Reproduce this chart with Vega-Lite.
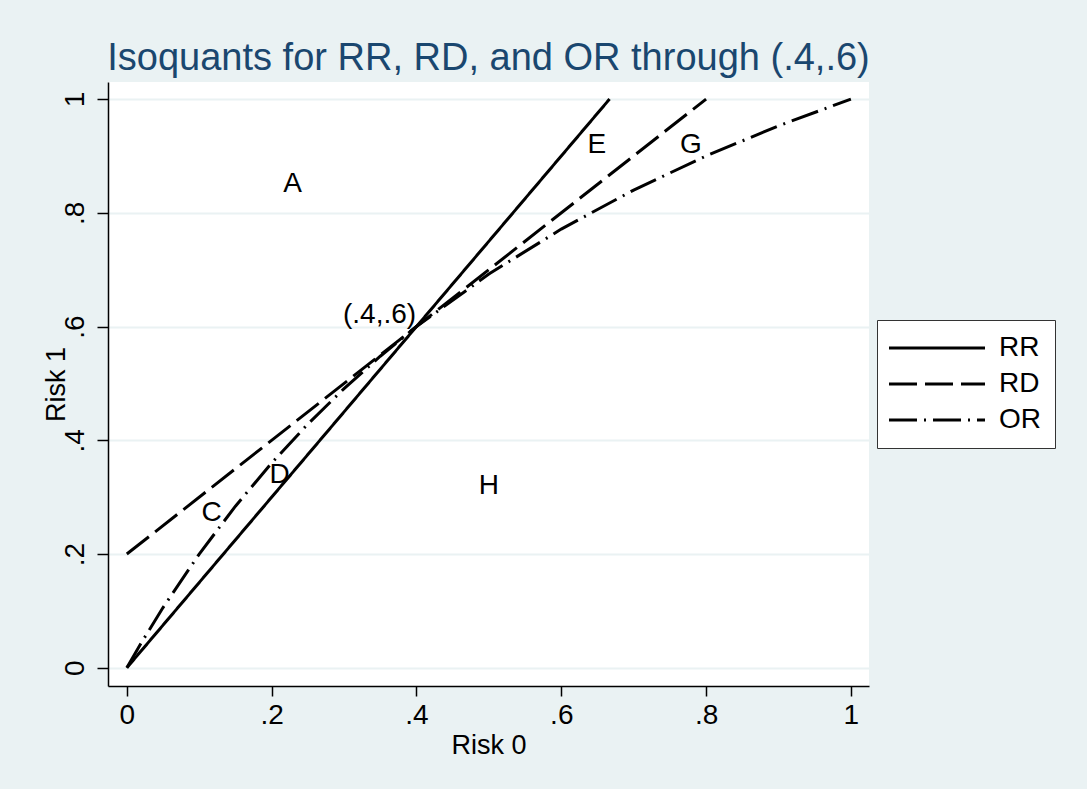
{
  "$schema": "https://vega.github.io/schema/vega-lite/v6.json",
  "autosize": {"type": "none"},
  "padding": {"left": 108, "top": 82, "right": 218, "bottom": 103},
  "width": 761,
  "height": 604,
  "background": "#eaf2f3",
  "title": {
    "text": "Isoquants for RR, RD, and OR through (.4,.6)",
    "font": "Liberation Sans",
    "fontSize": 38,
    "fontWeight": "normal",
    "color": "#1a476f",
    "anchor": "middle",
    "offset": 4
  },
  "config": {
    "view": {"fill": "white", "stroke": null},
    "font": "Liberation Sans",
    "axis": {
      "domainColor": "black",
      "domainWidth": 1.5,
      "tickColor": "black",
      "tickWidth": 1.5,
      "labelFont": "Liberation Sans",
      "labelFontSize": 28,
      "labelColor": "black",
      "titleFont": "Liberation Sans",
      "titleFontSize": 27,
      "titleFontWeight": "normal",
      "titleColor": "black"
    }
  },
  "datasets": {
    "lines": [
      {"measure": "RR", "risk0": 0, "risk1": 0},
      {"measure": "RR", "risk0": 0.6667, "risk1": 1},
      {"measure": "RD", "risk0": 0, "risk1": 0.2},
      {"measure": "RD", "risk0": 0.8, "risk1": 1},
      {"measure": "OR", "risk0": 0, "risk1": 0},
      {"measure": "OR", "risk0": 0.02, "risk1": 0.0439},
      {"measure": "OR", "risk0": 0.05, "risk1": 0.1059},
      {"measure": "OR", "risk0": 0.1, "risk1": 0.2},
      {"measure": "OR", "risk0": 0.15, "risk1": 0.2842},
      {"measure": "OR", "risk0": 0.2, "risk1": 0.36},
      {"measure": "OR", "risk0": 0.25, "risk1": 0.4286},
      {"measure": "OR", "risk0": 0.3, "risk1": 0.4909},
      {"measure": "OR", "risk0": 0.35, "risk1": 0.5478},
      {"measure": "OR", "risk0": 0.4, "risk1": 0.6},
      {"measure": "OR", "risk0": 0.5, "risk1": 0.6923},
      {"measure": "OR", "risk0": 0.6, "risk1": 0.7714},
      {"measure": "OR", "risk0": 0.7, "risk1": 0.84},
      {"measure": "OR", "risk0": 0.8, "risk1": 0.9},
      {"measure": "OR", "risk0": 0.9, "risk1": 0.9529},
      {"measure": "OR", "risk0": 1, "risk1": 1}
    ],
    "labels": [
      {"label": "A", "risk0": 0.229, "risk1": 0.851},
      {"label": "E", "risk0": 0.649, "risk1": 0.919},
      {"label": "G", "risk0": 0.779, "risk1": 0.919},
      {"label": "(.4,.6)", "risk0": 0.349, "risk1": 0.62},
      {"label": "D", "risk0": 0.211, "risk1": 0.339},
      {"label": "C", "risk0": 0.117, "risk1": 0.272},
      {"label": "H", "risk0": 0.5, "risk1": 0.32}
    ]
  },
  "layer": [
    {
      "data": {"name": "lines"},
      "mark": {"type": "line", "color": "black", "strokeWidth": 3, "clip": true},
      "encoding": {
        "x": {
          "field": "risk0", "type": "quantitative",
          "scale": {"domain": [-0.026, 1.025], "nice": false, "zero": false},
          "axis": {
            "title": "Risk 0", "values": [0, 0.2, 0.4, 0.6, 0.8, 1],
            "labelExpr": "datum.value == 0 ? '0' : datum.value == 1 ? '1' : replace(format(datum.value, '.1f'), '0.', '.')",
            "grid": false, "tickSize": 10, "labelPadding": 5, "titlePadding": 3
          }
        },
        "y": {
          "field": "risk1", "type": "quantitative",
          "scale": {"domain": [-0.032, 1.03], "nice": false, "zero": false},
          "axis": {
            "title": "Risk 1", "values": [0, 0.2, 0.4, 0.6, 0.8, 1],
            "labelExpr": "datum.value == 0 ? '0' : datum.value == 1 ? '1' : replace(format(datum.value, '.1f'), '0.', '.')",
            "labelAngle": -90, "labelAlign": "center", "labelBaseline": "bottom",
            "grid": true, "gridColor": "#eaf2f3", "gridWidth": 2,
            "tickSize": 11, "labelPadding": 8, "titlePadding": -9
          }
        },
        "detail": {"field": "measure"},
        "strokeDash": {
          "field": "measure", "type": "nominal",
          "scale": {"domain": ["RR", "RD", "OR"], "range": [[1, 0], [28, 8], [28, 7, 2, 7]]},
          "legend": {
            "title": null,
            "orient": "none",
            "legendX": 769,
            "legendY": 238,
            "symbolType": "M-2,0H10",
            "symbolSize": 256,
            "symbolStrokeWidth": 3,
            "symbolStrokeColor": "black",
            "symbolFillColor": "transparent",
            "labelFontSize": 28,
            "labelFont": "Liberation Sans",
            "labelColor": "black",
            "fillColor": "white",
            "strokeColor": "#333333",
            "padding": 14,
            "rowPadding": 8,
            "labelOffset": 80
          }
        }
      }
    },
    {
      "data": {"name": "labels"},
      "mark": {"type": "text", "fontSize": 28, "font": "Liberation Sans", "color": "black", "align": "center", "baseline": "middle"},
      "encoding": {
        "x": {"field": "risk0", "type": "quantitative"},
        "y": {"field": "risk1", "type": "quantitative"},
        "text": {"field": "label"}
      }
    }
  ]
}
